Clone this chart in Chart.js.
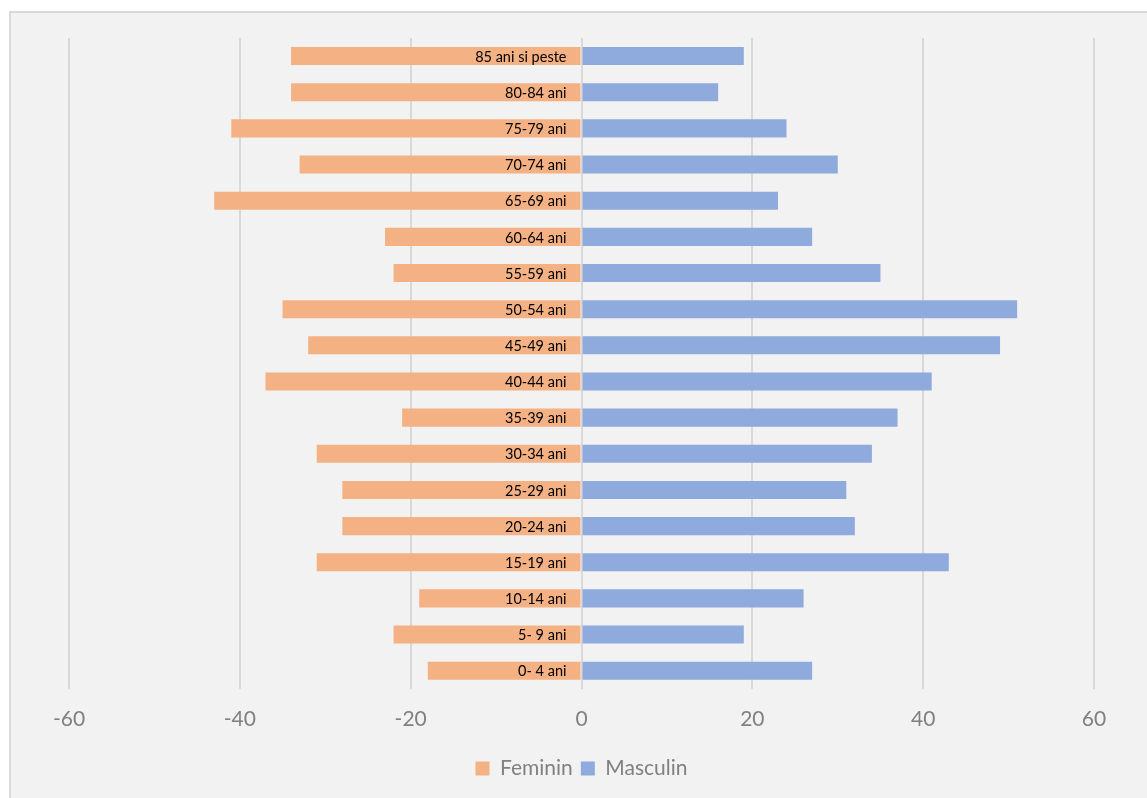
<!DOCTYPE html>
<html>
<head>
<meta charset="utf-8">
<script src="https://cdn.jsdelivr.net/npm/chart.js@4/dist/chart.umd.min.js"></script>
<style>
    html, body { margin: 0; padding: 0; background: #ffffff; overflow: hidden; }
    #frame {
        position: absolute; left: 9px; top: 11px; width: 1200px; height: 850px;
        border: 2px solid #d9d9d9; background: #f2f2f2;
    }
    #wrap { position: absolute; left: 0; top: 0; width: 1147px; height: 798px; }
</style>
</head>
<body>
<div id="frame"></div>
<div id="wrap"><canvas id="pyramid"></canvas></div>
<script>
// age groups, top to bottom
const ageGroups = ['85 ani si peste', '80-84 ani', '75-79 ani', '70-74 ani', '65-69 ani', '60-64 ani',
    '55-59 ani', '50-54 ani', '45-49 ani', '40-44 ani', '35-39 ani', '30-34 ani',
    '25-29 ani', '20-24 ani', '15-19 ani', '10-14 ani', '5- 9 ani', '0- 4 ani'];
const feminin = [-34, -34, -41, -33, -43, -23, -22, -35, -32, -37, -21, -31, -28, -28, -31, -19, -22, -18];
const masculin = [19, 16, 24, 30, 23, 27, 35, 51, 49, 41, 37, 34, 31, 32, 43, 26, 19, 27];
const xTicks = [-60, -40, -20, 0, 20, 40, 60];

const FONT = 'Lato, "Open Sans", sans-serif';

// category labels sit next to the zero line, over the bars (Excel style)
const axisLabels = {
    id: 'axisLabels',
    afterDatasetsDraw(chart) {
        const { ctx, scales } = chart;
        const x0 = scales.x.getPixelForValue(0) - 15;
        ctx.save();
        ctx.font = '14.5px ' + FONT;
        ctx.fillStyle = '#000000';
        ctx.textAlign = 'right';
        ctx.textBaseline = 'middle';
        scales.y.ticks.forEach((t, i) => {
            ctx.fillText(chart.data.labels[i], x0, scales.y.getPixelForTick(i) + 1);
        });
        ctx.restore();
    }
};

function initChart() {
    const ctx = document.getElementById('pyramid').getContext('2d');
    new Chart(ctx, {
        type: 'bar',
        data: {
            labels: ageGroups,
            datasets: [{
                label: 'Feminin',
                data: feminin,
                backgroundColor: '#f4b183',
                barPercentage: 0.5,
                categoryPercentage: 1
            }, {
                label: 'Masculin',
                data: masculin,
                backgroundColor: '#8faadc',
                barPercentage: 0.5,
                categoryPercentage: 1
            }]
        },
        options: {
            indexAxis: 'y',
            responsive: true,
            maintainAspectRatio: false,
            animation: false,
            layout: { padding: { left: 69, right: 53, top: 38, bottom: 9 } },
            scales: {
                x: {
                    stacked: true,
                    min: -60,
                    max: 60,
                    afterBuildTicks: axis => { axis.ticks = xTicks.map(v => ({ value: v })); },
                    grid: { color: '#d9d9d9', lineWidth: 2, drawTicks: false },
                    border: { display: false },
                    ticks: { color: '#808080', font: { family: FONT, size: 21 }, padding: 18 }
                },
                y: {
                    stacked: true,
                    display: false
                }
            },
            plugins: {
                legend: {
                    position: 'bottom',
                    labels: {
                        color: '#808080',
                        font: { family: FONT, size: 21 },
                        boxWidth: 14,
                        boxHeight: 14,
                        padding: 8
                    }
                },
                tooltip: { enabled: false }
            }
        },
        plugins: [axisLabels]
    });
}

window.onload = () => {
    initChart();
};
</script>
</body>
</html>
